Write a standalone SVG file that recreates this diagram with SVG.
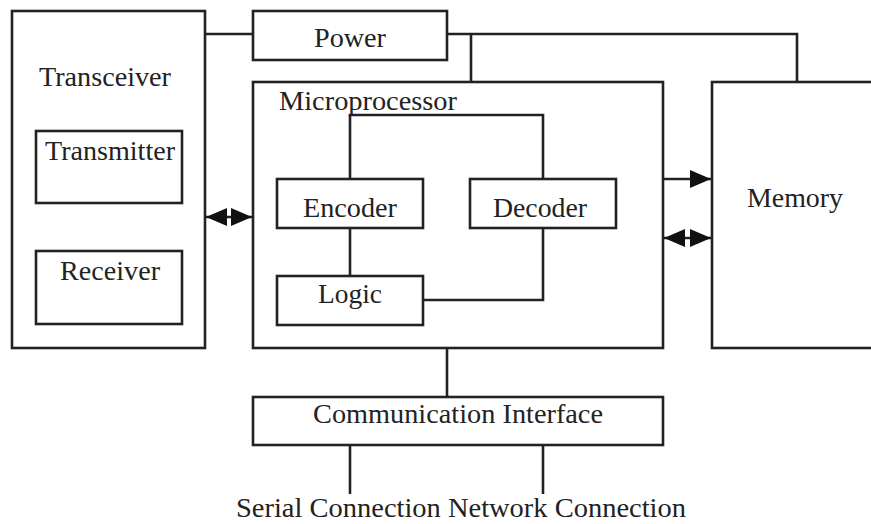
<svg xmlns="http://www.w3.org/2000/svg" width="871" height="524" viewBox="0 0 871 524">
<defs>
<style>
.box{fill:none;stroke:#222;stroke-width:2.6}
.wire{fill:none;stroke:#222;stroke-width:2.6}
.t{font-family:'Liberation Serif','Times New Roman',Times,serif;font-size:27px;fill:#222}
</style>
<marker id="ah" markerUnits="userSpaceOnUse" markerWidth="22" markerHeight="18" refX="21" refY="9" orient="auto-start-reverse">
<path d="M0,0 L21,9 L0,18 z" fill="#111"/>
</marker>
</defs>
<rect width="871" height="524" fill="#fff"/>
<g id="transceiver">
<rect class="box" x="12" y="11" width="193" height="337"/>
<text class="t" x="39" y="86" textLength="132" lengthAdjust="spacingAndGlyphs">Transceiver</text>
</g>
<g id="transmitter">
<rect class="box" x="36" y="131" width="146" height="72"/>
<text class="t" x="45" y="160" textLength="130" lengthAdjust="spacingAndGlyphs">Transmitter</text>
</g>
<g id="receiver">
<rect class="box" x="36" y="251" width="146" height="73"/>
<text class="t" x="60" y="280" textLength="100" lengthAdjust="spacingAndGlyphs">Receiver</text>
</g>
<g id="power">
<rect class="box" x="253" y="11" width="194" height="49"/>
<text class="t" x="314" y="47" textLength="72" lengthAdjust="spacingAndGlyphs">Power</text>
</g>
<g id="microprocessor">
<rect class="box" x="253" y="82" width="410" height="266"/>
<text class="t" x="279" y="110" textLength="178" lengthAdjust="spacingAndGlyphs">Microprocessor</text>
</g>
<g id="encoder">
<rect class="box" x="277" y="179" width="146" height="49"/>
<text class="t" x="303" y="217" textLength="94" lengthAdjust="spacingAndGlyphs">Encoder</text>
</g>
<g id="decoder">
<rect class="box" x="470" y="179" width="146" height="49"/>
<text class="t" x="493" y="217" textLength="94" lengthAdjust="spacingAndGlyphs">Decoder</text>
</g>
<g id="logic">
<rect class="box" x="277" y="276" width="146" height="49"/>
<text class="t" x="318" y="303" textLength="64" lengthAdjust="spacingAndGlyphs">Logic</text>
</g>
<g id="memory">
<rect class="box" x="712" y="82" width="170" height="266"/>
<text class="t" x="747" y="207" textLength="96" lengthAdjust="spacingAndGlyphs">Memory</text>
</g>
<g id="comm">
<rect class="box" x="253" y="397" width="410" height="48"/>
<text class="t" x="313" y="423" textLength="290" lengthAdjust="spacingAndGlyphs">Communication Interface</text>
</g>
<g id="labels">
<text class="t" x="236" y="517" textLength="450" lengthAdjust="spacingAndGlyphs">Serial Connection Network Connection</text>
</g>
<g id="connectors">
<path class="wire" d="M205,34 H253"/>
<path class="wire" d="M447,34 H797 V82"/>
<path class="wire" d="M471,34 V82"/>
<path class="wire" d="M350,179 V115 H543 V179"/>
<path class="wire" d="M350,228 V276"/>
<path class="wire" d="M423,300 H543 V228"/>
<path class="wire" d="M447,348 V397"/>
<path class="wire" d="M350,445 V494"/>
<path class="wire" d="M543,445 V494"/>
<path class="wire" d="M206,217 H252" marker-start="url(#ah)" marker-end="url(#ah)"/>
<path class="wire" d="M663,179 H711" marker-end="url(#ah)"/>
<path class="wire" d="M664,238 H711" marker-start="url(#ah)" marker-end="url(#ah)"/>
</g>
</svg>
